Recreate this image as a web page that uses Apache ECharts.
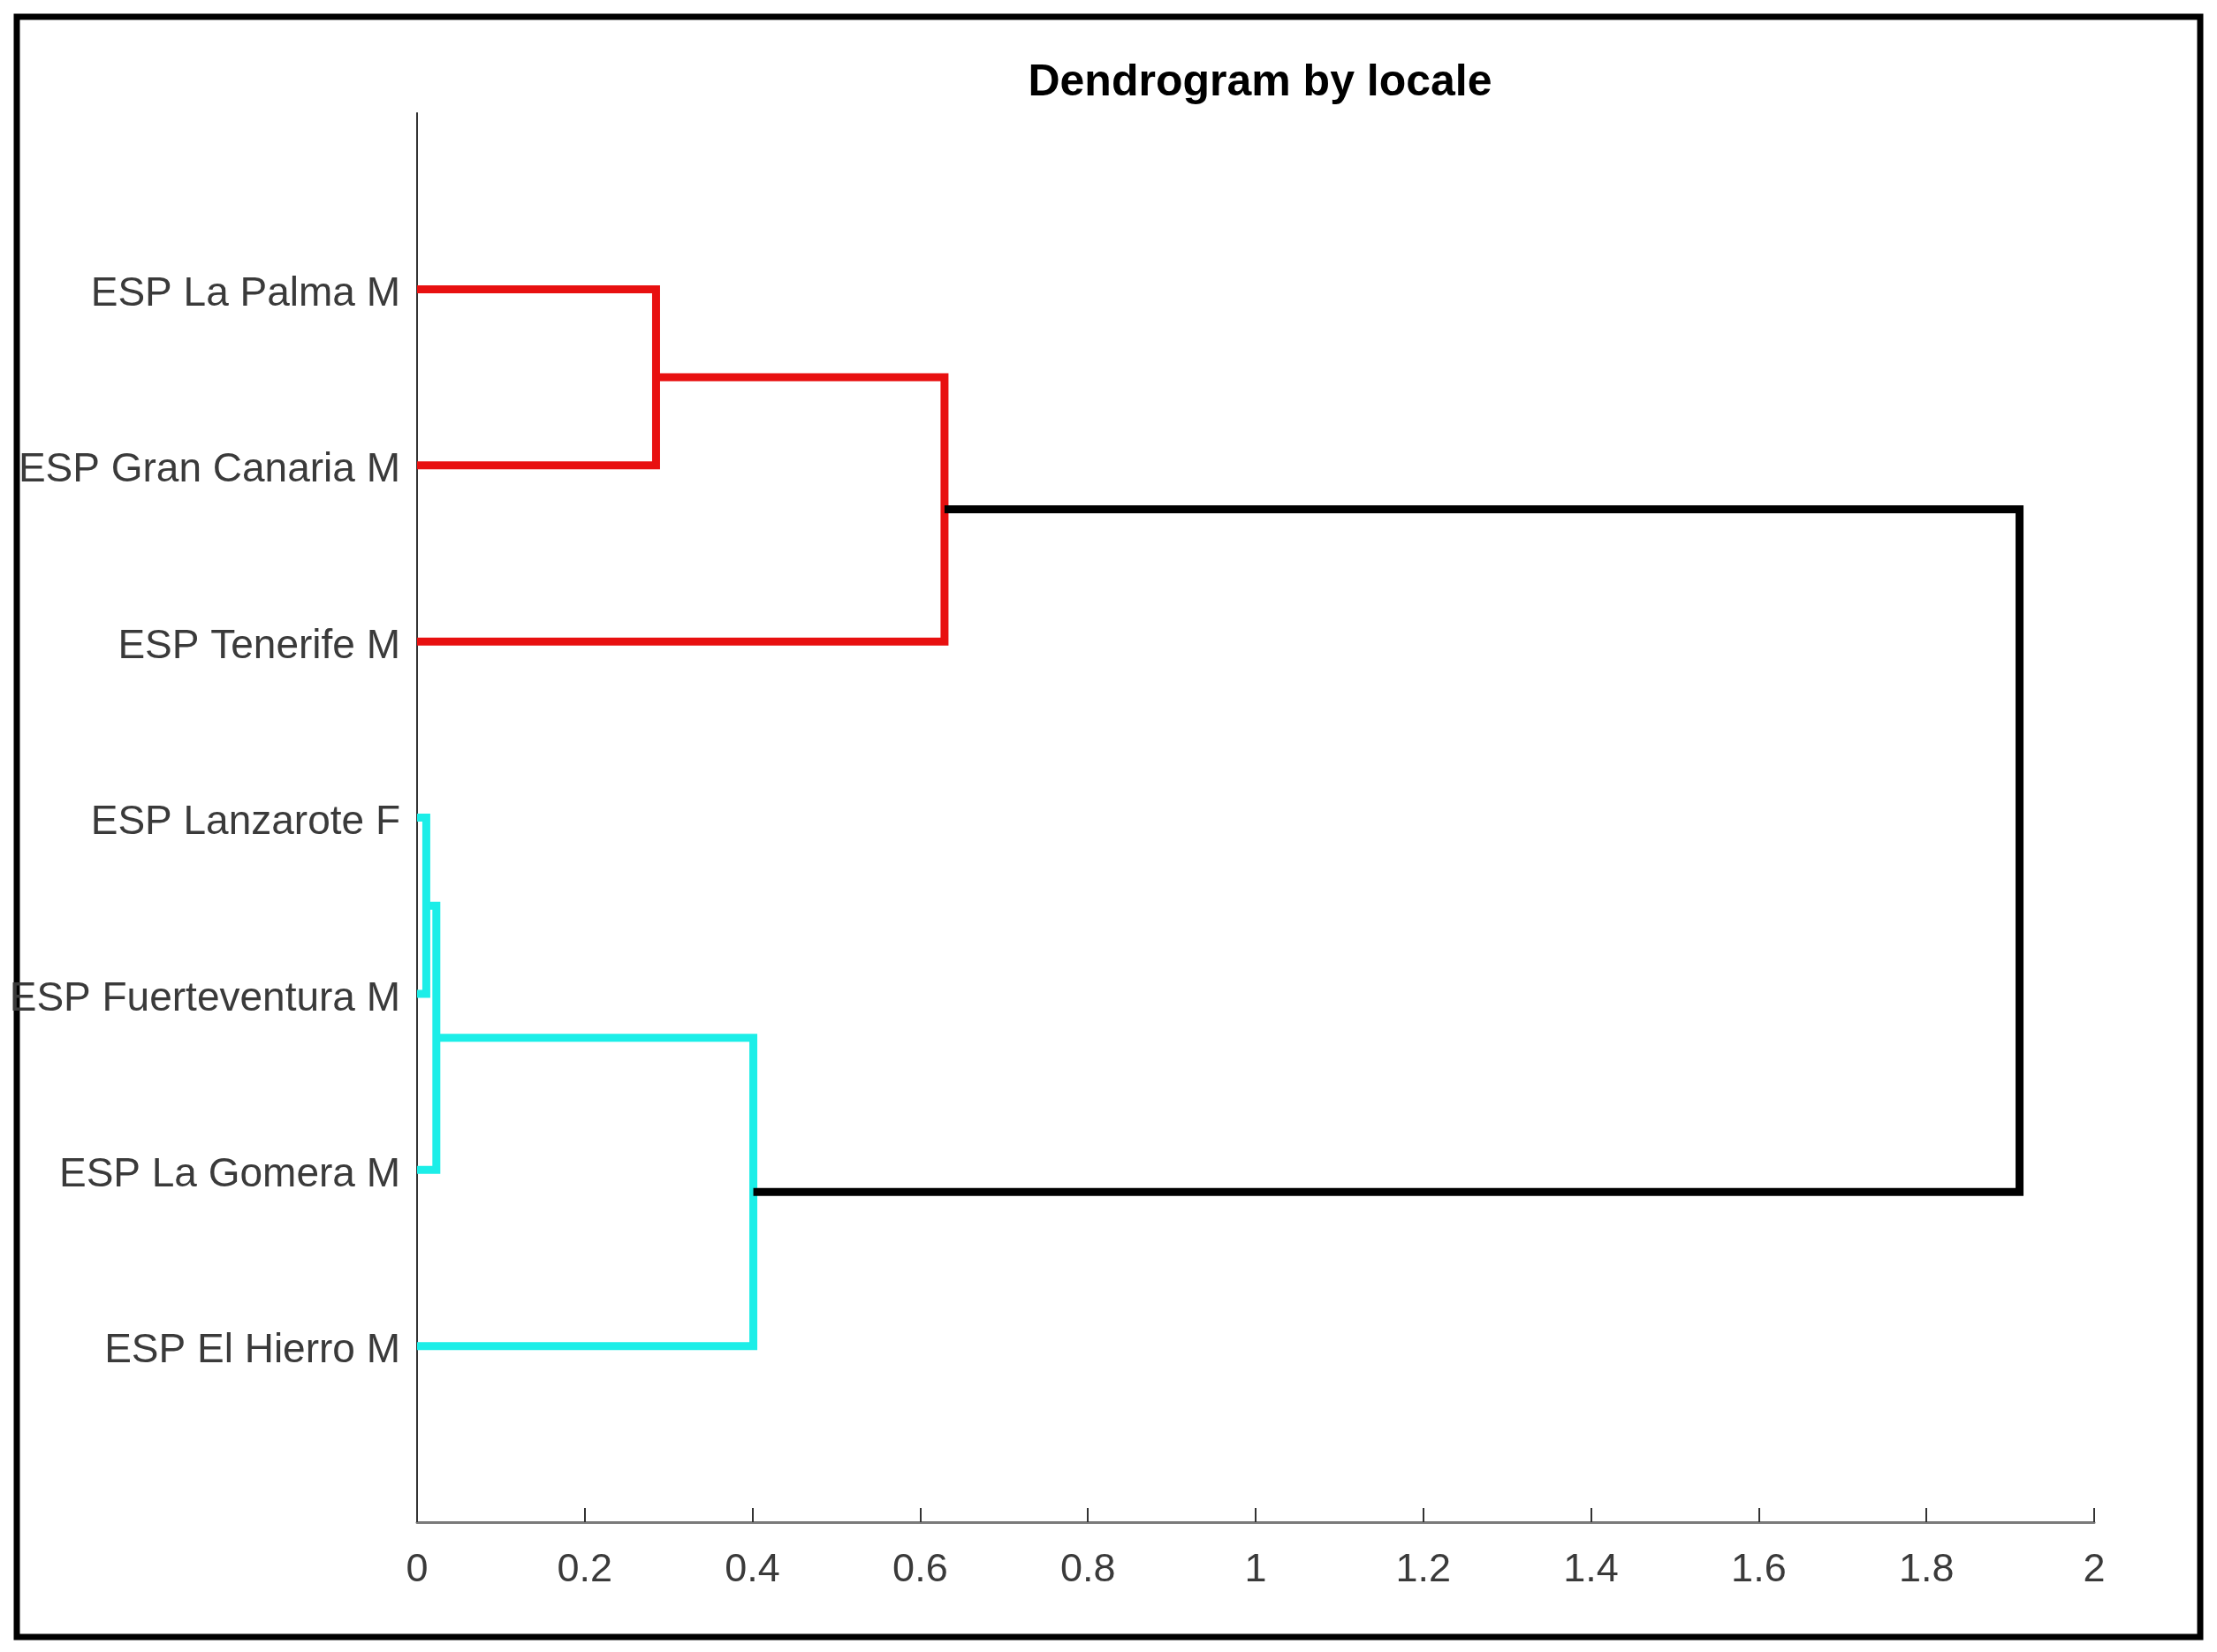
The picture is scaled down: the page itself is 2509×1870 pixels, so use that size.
<!DOCTYPE html>
<html>
<head>
<meta charset="utf-8">
<script src="https://cdn.jsdelivr.net/npm/echarts@6/dist/echarts.min.js"></script>
<style>
  html, body { margin: 0; padding: 0; background: #fff; }
  #chart { width: 2509px; height: 1870px; }
</style>
</head>
<body>
<div id="chart"></div>
<script>
// leaves, bottom to top (y = 1..7)
var leafLabels = ['ESP El Hierro M', 'ESP La Gomera M', 'ESP Fuerteventura M', 'ESP Lanzarote F',
                  'ESP Tenerife M', 'ESP Gran Canaria M', 'ESP La Palma M'];
// merges: ids 0..6 are leaves, merge k makes node 7+k
var mergeLeft   = [3, 7, 6, 8, 9, 11];
var mergeRight  = [2, 1, 5, 0, 4, 10];
var mergeHeight = [0.011, 0.023, 0.285, 0.401, 0.629, 1.911];
var mergeColor  = ['#1ceee8', '#1ceee8', '#e81010', '#1ceee8', '#e81010', '#000000'];
var xTicks = [0, 0.2, 0.4, 0.6, 0.8, 1, 1.2, 1.4, 1.6, 1.8, 2];

var nodeY = [], nodeX = [];
for (var i = 0; i < leafLabels.length; i++) { nodeY.push(i + 1); nodeX.push(0); }

var series = [];
for (var k = 0; k < mergeHeight.length; k++) {
  var a = mergeLeft[k], b = mergeRight[k], h = mergeHeight[k];
  series.push({
    type: 'line',
    showSymbol: false,
    silent: true,
    animation: false,
    lineStyle: { color: mergeColor[k], width: 9, join: 'miter', cap: 'butt' },
    data: [[nodeX[a], nodeY[a]], [h, nodeY[a]], [h, nodeY[b]], [nodeX[b], nodeY[b]]]
  });
  nodeY.push((nodeY[a] + nodeY[b]) / 2);
  nodeX.push(h);
}

var chart = echarts.init(document.getElementById('chart'));
chart.setOption({
  backgroundColor: '#fff',
  title: {
    text: 'Dendrogram by locale',
    left: 1421,
    textAlign: 'center',
    top: 64,
    textStyle: { fontFamily: 'Liberation Sans', fontSize: 50, fontWeight: 'bold', color: '#000' }
  },
  graphic: [{
    type: 'rect',
    shape: { x: 19, y: 19, width: 2471, height: 1834 },
    style: { fill: 'none', stroke: '#000', lineWidth: 7 }
  }],
  grid: { left: 472, right: 139, top: 128, bottom: 147 },
  xAxis: {
    type: 'value',
    min: xTicks[0],
    max: xTicks[xTicks.length - 1],
    interval: 0.2,
    splitLine: { show: false },
    axisLine: { lineStyle: { color: '#7a7a7a', width: 3 } },
    axisTick: { inside: true, length: 16, lineStyle: { color: '#333', width: 2 } },
    axisLabel: {
      margin: 32, fontFamily: 'Liberation Sans', fontSize: 45, color: '#3a3a3a',
      formatter: function (v) { return String(+v.toFixed(1)); }
    }
  },
  yAxis: {
    type: 'value',
    min: 0,
    max: leafLabels.length + 1,
    interval: 1,
    splitLine: { show: false },
    axisLine: { show: true, lineStyle: { color: '#333', width: 2 } },
    axisTick: { show: false },
    axisLabel: {
      margin: 19, fontFamily: 'Liberation Sans', fontSize: 46, color: '#3a3a3a',
      verticalAlign: 'top', lineHeight: 12,
      formatter: function (v) { return leafLabels[v - 1] || ''; }
    }
  },
  series: series
});
</script>
</body>
</html>
